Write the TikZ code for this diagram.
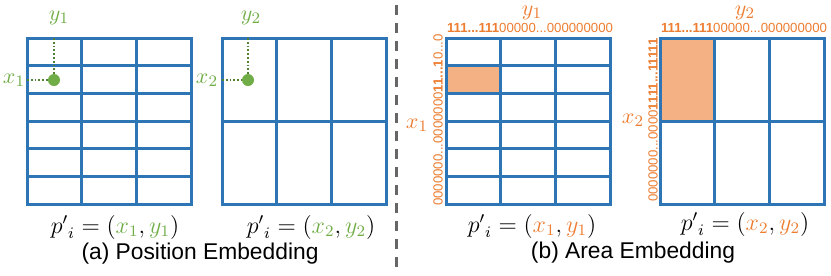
\documentclass[tikz,border=0pt]{standalone}
\usepackage{fontspec}
\setmainfont{Liberation Sans}
\usetikzlibrary{positioning}

\definecolor{gridblue}{RGB}{46,117,182}
\definecolor{posgreen}{RGB}{112,173,71}
\definecolor{guidegreen}{RGB}{84,130,53}
\definecolor{areaorange}{RGB}{237,125,49}
\definecolor{areafill}{RGB}{244,177,131}

% cells of a 164x166 grid: #1,#2 = top left, #3 = columns, #4 = rows
\newcommand{\embgrid}[4]{%
  \foreach \c in {0,...,#3}
    \draw[gridline] ({#1+\c*164/#3},#2) -- ++(0,166);
  \foreach \r in {0,...,#4}
    \draw[gridline] (#1,{#2+\r*166/#4}) -- ++(164,0);
}

\begin{document}
\begin{tikzpicture}[x=0.5pt,y=-0.5pt,
  gridline/.style={gridblue,line width=1.5pt,line cap=rect},
  guide/.style={guidegreen,densely dotted,line width=0.9pt},
  posdot/.style={circle,fill=posgreen,inner sep=0pt,minimum size=6pt},
  poslabel/.style={text=posgreen,inner sep=1pt,font=\fontsize{11}{13}\selectfont},
  arealabel/.style={text=areaorange,inner sep=1pt,font=\fontsize{11}{13}\selectfont},
  bits/.style={text=areaorange,inner sep=0pt,font=\fontsize{6.6}{7}\selectfont},
  formula/.style={font=\fontsize{11.5}{13}\selectfont},
  caption/.style={font=\fontsize{11.4}{13}\selectfont}]
  \useasboundingbox (0,0) rectangle (831,275);

  % (a) position embedding
  \embgrid{27}{38}{3}{6}
  \embgrid{222}{38}{3}{2}
  \node[posdot] (dotA) at (54,80) {};
  \node[posdot] (dotB) at (248,80) {};
  \coordinate (topA) at (54,38);
  \coordinate (leftA) at (27,80);
  \coordinate (topB) at (248,38);
  \coordinate (leftB) at (222,80);
  \draw[guide] (topA) -- (dotA);
  \draw[guide] (leftA) -- (dotA);
  \draw[guide] (topB) -- (dotB);
  \draw[guide] (leftB) -- (dotB);
  \node[poslabel] (ya) at (59,18) {$y_1$};
  \node[poslabel] (xa) at (14,80) {$x_1$};
  \node[poslabel] (yb) at (251,18) {$y_2$};
  \node[poslabel] (xb) at (207,80) {$x_2$};
  \node[formula] (pa) at (115,227) {${p'}_i=(\textcolor{posgreen}{x_1},\textcolor{posgreen}{y_1})$};
  \node[formula] (pb) at (311,227) {${p'}_i=(\textcolor{posgreen}{x_2},\textcolor{posgreen}{y_2})$};
  \node[caption] (capa) at (200,254) {(a) Position Embedding};

  % separator
  \draw[gray!80!black,line width=1.5pt,dash pattern=on 5pt off 4pt] (396,5) -- (396,268);

  % (b) area embedding
  \fill[areafill] (446,{38+166/6}) rectangle ++(164/3,166/6);
  \fill[areafill] (660,38) rectangle ++(164/3,83);
  \embgrid{446}{38}{3}{6}
  \embgrid{660}{38}{3}{2}
  \node[arealabel] (yc) at (532,13) {$y_1$};
  \node[arealabel] (xc) at (417,125) {$x_1$};
  \node[arealabel] (yd) at (745,13) {$y_2$};
  \node[arealabel] (xd) at (633,120) {$x_2$};
  \node[bits] (bitsyc) at (530,28) {\textbf{111...111}00000...000000000};
  \node[bits,rotate=90] (bitsxc) at (438,120) {0000000...0000000\textbf{11...1}0...0};
  \node[bits] (bitsyd) at (744,28) {\textbf{111...111}00000...000000000};
  \node[bits,rotate=90] (bitsxd) at (653,120) {0000000...0000\textbf{1111...11111}};
  \node[formula] (pc) at (532,226) {${p'}_i=(\textcolor{areaorange}{x_1},\textcolor{areaorange}{y_1})$};
  \node[formula] (pd) at (745,224) {${p'}_i=(\textcolor{areaorange}{x_2},\textcolor{areaorange}{y_2})$};
  \node[caption] (capb) at (633,253) {(b) Area Embedding};
\end{tikzpicture}
\end{document}
